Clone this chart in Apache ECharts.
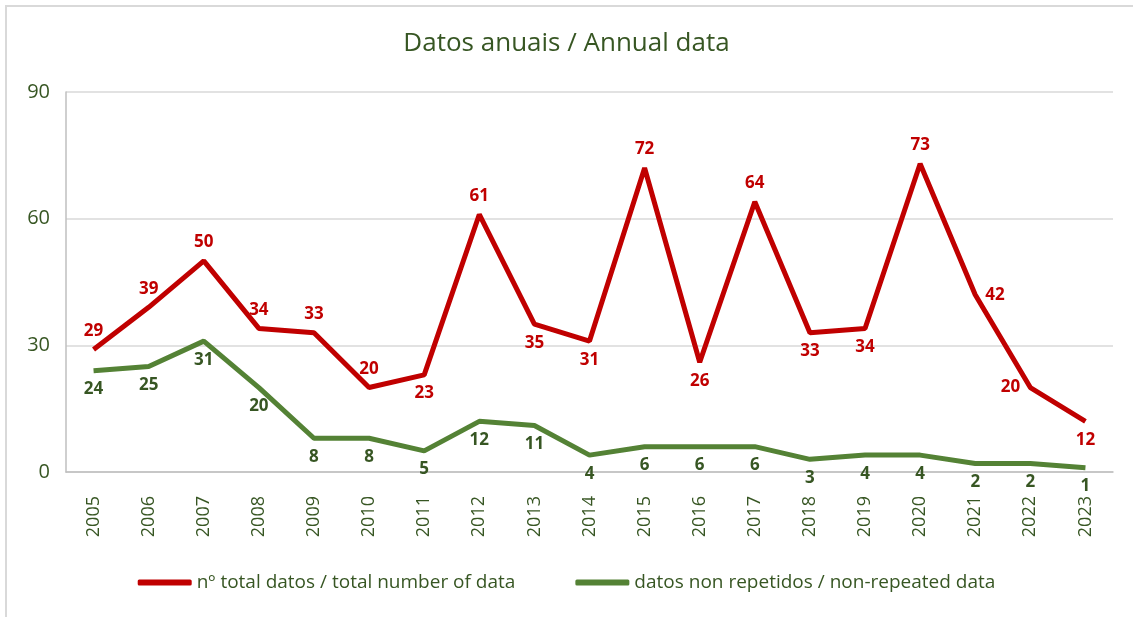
<!DOCTYPE html>
<html>
<head>
<meta charset="utf-8">
<script src="https://cdn.jsdelivr.net/npm/echarts@6/dist/echarts.min.js"></script>
<style>
  html, body { margin: 0; padding: 0; background: #fff; }
  #frame { position: absolute; left: 5px; top: 5px; width: 1140px; height: 620px;
           border-left: 2px solid #d9d9d9; border-top: 2px solid #d9d9d9; }
  #chart { width: 1133px; height: 617px; }
</style>
</head>
<body>
<div id="frame"></div>
<div id="chart"></div>
<script>
// categories
let years = ["2005","2006","2007","2008","2009","2010","2011","2012","2013","2014",
             "2015","2016","2017","2018","2019","2020","2021","2022","2023"];
// nº total datos / total number of data
let totalData = [29, 39, 50, 34, 33, 20, 23, 61, 35, 31, 72, 26, 64, 33, 34, 73, 42, 20, 12];
// datos non repetidos / non-repeated data
let uniqueData = [24, 25, 31, 20, 8, 8, 5, 12, 11, 4, 6, 6, 6, 3, 4, 4, 2, 2, 1];
let yTicks = [0, 30, 60, 90];

// where each red label sits (like excel's manual placement)
let totalLabelPos = ["top","top","top","top","top","top","bottom","top","bottom","bottom",
                     "top","bottom","top","bottom","bottom","top","right","left","bottom"];

const darkGreen = "#375623";
const red = "#c00000";
const green = "#548235";

let options = {
  animation: false,
  title: {
    text: "Datos anuais / Annual data",
    left: "center",
    top: 26,
    textStyle: {
      color: darkGreen,
      fontFamily: "Open Sans",
      fontSize: 26,
      fontWeight: "normal"
    }
  },
  legend: {
    bottom: 20,
    left: "center",
    itemGap: 60,
    itemWidth: 54,
    itemHeight: 6,
    icon: "roundRect",
    textStyle: {
      color: darkGreen,
      fontFamily: "Open Sans",
      fontSize: 19
    },
    data: ["nº total datos / total number of data", "datos non repetidos / non-repeated data"]
  },
  grid: {
    left: 66,
    right: 20,
    top: 92,
    bottom: 145
  },
  xAxis: {
    type: "category",
    boundaryGap: true,
    data: years,
    axisLine: { show: true, lineStyle: { color: "#bfbfbf", width: 1.5 } },
    axisTick: { show: false },
    axisLabel: {
      rotate: 90,
      color: darkGreen,
      fontFamily: "Open Sans",
      fontSize: 18,
      margin: 24
    }
  },
  yAxis: {
    type: "value",
    min: yTicks[0],
    max: yTicks[yTicks.length - 1],
    interval: 30,
    axisLine: { show: true, lineStyle: { color: "#bfbfbf", width: 1.5 } },
    axisTick: { show: false },
    axisLabel: {
      color: darkGreen,
      fontFamily: "Open Sans",
      fontSize: 20,
      margin: 16
    },
    splitLine: { lineStyle: { color: "#d9d9d9", width: 1.5 } }
  },
  series: [
    {
      name: "nº total datos / total number of data",
      type: "line",
      symbol: "circle",
      symbolSize: 0.1,
      lineStyle: { color: red, width: 5 },
      itemStyle: { color: red },
      label: {
        show: true,
        color: red,
        fontFamily: "Open Sans",
        fontWeight: "bold",
        fontSize: 17,
        distance: 10
      },
      data: totalData.map((v, i) => ({ value: v, label: { position: totalLabelPos[i] } }))
    },
    {
      name: "datos non repetidos / non-repeated data",
      type: "line",
      symbol: "circle",
      symbolSize: 0.1,
      lineStyle: { color: green, width: 5 },
      itemStyle: { color: green },
      label: {
        show: true,
        position: "bottom",
        color: darkGreen,
        fontFamily: "Open Sans",
        fontWeight: "bold",
        fontSize: 17,
        distance: 10
      },
      data: uniqueData
    }
  ]
};

let chart = echarts.init(document.getElementById("chart"));
chart.setOption(options);
</script>
</body>
</html>
